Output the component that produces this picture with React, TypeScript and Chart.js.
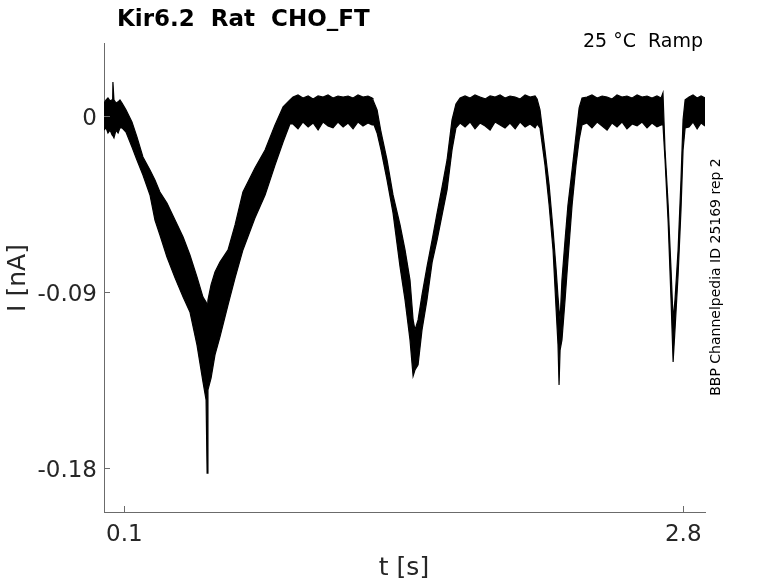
import { useEffect, useRef } from "react";
import Chart from "chart.js/auto";

// time [s] and the upper / lower edge [nA] of the overlaid sweeps, one row per stretch of the trace
const timeS = [
    0.002, 0.012, 0.021, 0.031, 0.041, 0.045, 0.05, 0.06, 0.07, 0.079, 0.089,
    0.108, 0.137, 0.161, 0.19, 0.224, 0.248, 0.272, 0.306, 0.345, 0.384, 0.417, 0.451, 0.48, 0.495, 0.5,
    0.504, 0.519, 0.538, 0.562, 0.601, 0.635, 0.673, 0.731, 0.78, 0.828, 0.867, 0.9,
    0.915, 0.939, 0.963, 0.988, 1.012, 1.036, 1.06, 1.084, 1.108, 1.132, 1.157, 1.181, 1.205, 1.229, 1.253, 1.277, 1.297, 1.301,
    1.321, 1.34, 1.369, 1.398, 1.432, 1.456, 1.48, 1.495, 1.504, 1.519, 1.538, 1.562, 1.587, 1.611, 1.635, 1.659, 1.683, 1.702, 1.722,
    1.746, 1.77, 1.794, 1.818, 1.843, 1.867, 1.891, 1.915, 1.939, 1.963, 1.988, 2.012, 2.036, 2.06, 2.084, 2.094,
    2.108, 2.132, 2.152, 2.171, 2.186, 2.195, 2.2, 2.205, 2.214, 2.229, 2.243, 2.263, 2.282, 2.297, 2.311,
    2.335, 2.359, 2.384, 2.408, 2.432, 2.456, 2.48, 2.504, 2.528, 2.553, 2.577, 2.601, 2.625, 2.649, 2.673, 2.693, 2.702,
    2.712, 2.727, 2.741, 2.751, 2.76, 2.775, 2.789, 2.799, 2.809,
    2.828, 2.847, 2.867, 2.886, 2.905,
];
const upperNA = [
    0.0066, 0.0082, 0.0092, 0.0077, 0.0082, 0.0174, 0.0082, 0.0066, 0.0072, 0.0082, 0.0066,
    0.0031, -0.0031, -0.0107, -0.021, -0.0276, -0.0327, -0.0389, -0.0445, -0.0532, -0.0619, -0.0711, -0.0823, -0.0926, -0.0951, -0.0966,
    -0.0941, -0.0864, -0.0798, -0.0747, -0.0685, -0.0557, -0.0389, -0.0266, -0.0174, -0.0046, 0.0046, 0.0082,
    0.0097, 0.0107, 0.0092, 0.0102, 0.0087, 0.0102, 0.0097, 0.0107, 0.0092, 0.0102, 0.0097, 0.0102, 0.0092, 0.0107, 0.0097, 0.0102, 0.0092, 0.0082,
    0.0031, -0.0082, -0.0225, -0.0404, -0.0557, -0.0685, -0.0839, -0.1043, -0.1094, -0.1043, -0.0915, -0.0772, -0.0634, -0.0496, -0.0363, -0.0225, -0.002, 0.0061, 0.0092,
    0.0102, 0.0092, 0.0107, 0.0097, 0.0087, 0.0102, 0.0097, 0.0107, 0.0092, 0.0102, 0.0097, 0.0087, 0.0107, 0.0097, 0.0102, 0.0087,
    0.0031, -0.0174, -0.0353, -0.0583, -0.0787, -0.0926, -0.0992, -0.1043, -0.0839, -0.0634, -0.0455, -0.0276, -0.0097, 0.0041, 0.0092,
    0.0097, 0.0107, 0.0092, 0.0102, 0.0097, 0.0087, 0.0107, 0.0097, 0.0102, 0.0092, 0.0107, 0.0097, 0.0102, 0.0092, 0.0102, 0.0092, 0.0118,
    -0.0174, -0.0455, -0.0787, -0.1043, -0.0941, -0.0685, -0.0327, -0.002, 0.0082,
    0.0097, 0.0107, 0.0092, 0.0102, 0.0092,
];
const lowerNA = [
    -0.0072, -0.0061, -0.0087, -0.0072, -0.0097, -0.0102, -0.0112, -0.0072, -0.0087, -0.0061, -0.0061,
    -0.0082, -0.0159, -0.0225, -0.0302, -0.0404, -0.0532, -0.0609, -0.0721, -0.0828, -0.0926, -0.1002, -0.1171, -0.136, -0.1452, -0.1826,
    -0.1401, -0.134, -0.1222, -0.113, -0.0966, -0.0828, -0.0685, -0.0522, -0.0404, -0.0251, -0.0133, -0.0041,
    -0.0041, -0.0066, -0.0031, -0.0056, -0.0036, -0.0072, -0.0031, -0.0051, -0.0061, -0.0031, -0.0056, -0.0036, -0.0066, -0.0031, -0.0051, -0.0036, -0.0046, -0.0031,
    -0.0087, -0.0174, -0.0327, -0.0496, -0.0772, -0.0941, -0.1145, -0.133, -0.1299, -0.1273, -0.1094, -0.0941, -0.0747, -0.0634, -0.0506, -0.0378, -0.0174, -0.0061, -0.0036,
    -0.0056, -0.0031, -0.0066, -0.0036, -0.0051, -0.0072, -0.0031, -0.0046, -0.0061, -0.0036, -0.0066, -0.0031, -0.0056, -0.0041, -0.0061, -0.0041,
    -0.0061, -0.0251, -0.0455, -0.0685, -0.0992, -0.1171, -0.1376, -0.1197, -0.1145, -0.0941, -0.0736, -0.0455, -0.0251, -0.0123, -0.0046,
    -0.0036, -0.0061, -0.0031, -0.0051, -0.0072, -0.0036, -0.0056, -0.0031, -0.0066, -0.0041, -0.0051, -0.0031, -0.0061, -0.0036, -0.0056, -0.0046, -0.0046,
    -0.0225, -0.0542, -0.0941, -0.1258, -0.1094, -0.0813, -0.0481, -0.0174, -0.0061,
    -0.0056, -0.0031, -0.0066, -0.0036, -0.0051,
];

const xTicks = [0.1, 2.8];
const yTicks = [0, -0.09, -0.18];

const FONT = "'DejaVu Sans', sans-serif";
const AXIS_GRAY = "#6b6b6b";
const TEXT_GRAY = "#262626";

const textPlugin = {
    id: "matlabText",
    afterDraw(chart: any) {
        const { ctx, chartArea, scales } = chart;
        ctx.save();

        // inward tick marks
        ctx.strokeStyle = AXIS_GRAY;
        ctx.lineWidth = 1;
        yTicks.forEach((v) => {
            const y = Math.round(scales.y.getPixelForValue(v)) + 0.5;
            ctx.beginPath();
            ctx.moveTo(chartArea.left, y);
            ctx.lineTo(chartArea.left + 6, y);
            ctx.stroke();
        });
        xTicks.forEach((v) => {
            const x = Math.round(scales.x.getPixelForValue(v)) + 0.5;
            ctx.beginPath();
            ctx.moveTo(x, chartArea.bottom);
            ctx.lineTo(x, chartArea.bottom - 6);
            ctx.stroke();
        });

        ctx.fillStyle = "#000";
        ctx.font = `bold 23px ${FONT}`;
        ctx.textAlign = "left";
        ctx.textBaseline = "alphabetic";
        ctx.fillText("Kir6.2  Rat  CHO_FT", 117, 26);

        ctx.font = `19px ${FONT}`;
        ctx.textAlign = "right";
        ctx.fillText("25 °C  Ramp", 703, 47);

        ctx.fillStyle = TEXT_GRAY;
        ctx.font = `25px ${FONT}`;
        ctx.textAlign = "center";
        ctx.fillText("t [s]", 404, 575);

        ctx.save();
        ctx.translate(18, 278);
        ctx.rotate(-Math.PI / 2);
        ctx.textBaseline = "middle";
        ctx.fillText("I [nA]", 0, 0);
        ctx.restore();

        ctx.save();
        ctx.fillStyle = "#000";
        ctx.font = `14px ${FONT}`;
        ctx.translate(716, 277);
        ctx.rotate(-Math.PI / 2);
        ctx.textAlign = "center";
        ctx.textBaseline = "middle";
        ctx.fillText("BBP Channelpedia ID 25169 rep 2", 0, 0);
        ctx.restore();

        ctx.restore();
    },
};

export default function App() {
    const canvasRef = useRef<HTMLCanvasElement | null>(null);

    useEffect(() => {
        if (!canvasRef.current) {
            return;
        }

        const chart = new Chart(canvasRef.current, {
            type: "line",
            data: {
                datasets: [
                    {
                        label: "upper",
                        data: timeS.map((t, i) => ({ x: t, y: upperNA[i] })),
                        borderColor: "#000",
                        borderWidth: 1.2,
                        pointRadius: 0,
                        fill: false,
                    },
                    {
                        label: "lower",
                        data: timeS.map((t, i) => ({ x: t, y: lowerNA[i] })),
                        borderColor: "#000",
                        borderWidth: 1.2,
                        backgroundColor: "#000",
                        pointRadius: 0,
                        fill: "-1",
                    },
                ],
            },
            options: {
                animation: false,
                responsive: true,
                maintainAspectRatio: false,
                layout: { padding: { top: 43, right: 73, left: 0, bottom: 0 } },
                plugins: {
                    legend: { display: false },
                    tooltip: { enabled: false },
                },
                scales: {
                    x: {
                        type: "linear",
                        min: 0.0019,
                        max: 2.905,
                        grid: { display: false, drawTicks: false },
                        border: { display: true, color: AXIS_GRAY, width: 1 },
                        afterBuildTicks: (scale: any) => {
                            scale.ticks = xTicks.map((value) => ({ value }));
                        },
                        afterFit: (scale: any) => {
                            scale.height = 71;
                        },
                        ticks: {
                            color: TEXT_GRAY,
                            padding: 9,
                            maxRotation: 0,
                            font: { family: FONT, size: 23 },
                            callback: (v: any) => String(v),
                        },
                    },
                    y: {
                        type: "linear",
                        min: -0.2025,
                        max: 0.0373,
                        grid: { display: false, drawTicks: false },
                        border: { display: true, color: AXIS_GRAY, width: 1 },
                        afterBuildTicks: (scale: any) => {
                            scale.ticks = yTicks.map((value) => ({ value }));
                        },
                        afterFit: (scale: any) => {
                            scale.width = 104;
                        },
                        ticks: {
                            color: TEXT_GRAY,
                            padding: 7,
                            labelOffset: 3,
                            font: { family: FONT, size: 23 },
                            callback: (v: any) => String(v),
                        },
                    },
                },
            },
            plugins: [textPlugin],
        });

        return () => chart.destroy();
    }, []);

    return (
        <div style={{ position: "absolute", left: 0, top: 0, width: 778, height: 583, background: "#fff" }}>
            <canvas ref={canvasRef} />
        </div>
    );
}
